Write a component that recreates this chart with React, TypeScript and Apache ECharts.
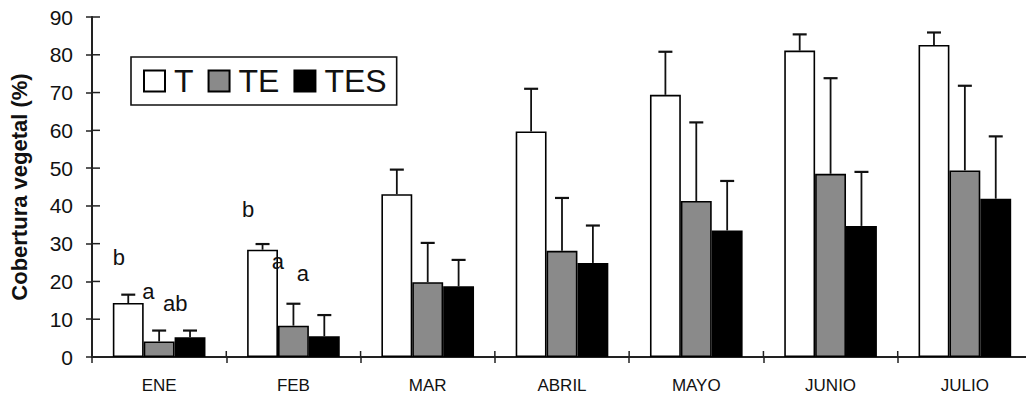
import React, { useEffect, useRef } from "react";
import * as echarts from "echarts";

const categories = ["ENE", "FEB", "MAR", "ABRIL", "MAYO", "JUNIO", "JULIO"];
const seriesNames = ["T", "TE", "TES"];
const valuesT = [14.3, 28.4, 43.1, 59.7, 69.4, 81.1, 82.6];
const errT = [2.2, 1.5, 6.5, 11.3, 11.4, 4.3, 3.3];
const valuesTE = [4.1, 8.3, 19.8, 28.1, 41.3, 48.5, 49.4];
const errTE = [2.9, 5.8, 10.4, 14.0, 20.8, 25.3, 22.4];
const valuesTES = [5.2, 5.5, 18.7, 24.9, 33.5, 34.7, 41.9];
const errTES = [1.8, 5.6, 7.0, 9.9, 13.1, 14.3, 16.5];
const yTicks = [0, 10, 20, 30, 40, 50, 60, 70, 80, 90];
// letter annotations: category index, position within category (0..1), y value, text
const letterCats = [0, 0, 0, 1, 1, 1];
const letterFrac = [0.2, 0.42, 0.62, 0.163, 0.385, 0.57];
const letterY = [26.3, 17.3, 14.1, 39.0, 25.2, 22.0];
const letterText = ["b", "a", "ab", "b", "a", "a"];

const FONT = "'Liberation Sans', Arial, sans-serif";
const BAR_FRAC = 0.23;
const colors = ["#ffffff", "#8a8a8a", "#000000"];

export default function App() {
  const ref = useRef<HTMLDivElement>(null);
  useEffect(() => {
    if (!ref.current) return;
    const chart = echarts.init(ref.current, undefined, { renderer: "svg" });
    const vals = [valuesT, valuesTE, valuesTES];
    const errs = [errT, errTE, errTES];

    const barSeries = seriesNames.map((name, s) => ({
      name,
      type: "bar",
      data: vals[s],
      barWidth: "23%",
      barGap: "0%",
      itemStyle: { color: colors[s], borderColor: "#000", borderWidth: 1.6 },
      z: 2,
    }));

    const errSeries = seriesNames.map((name, s) => ({
      name: name + "_err",
      type: "custom",
      data: vals[s].map((v, i) => [i, v, v + errs[s][i]]),
      encode: { x: 0, y: [1, 2] },
      z: 3,
      silent: true,
      renderItem: (params: any, api: any) => {
        const i = api.value(0);
        const base = api.coord([i, api.value(1)]);
        const top = api.coord([i, api.value(2)]);
        const bw = api.size([1, 0])[0];
        const x = base[0] + (s - 1) * bw * BAR_FRAC;
        return {
          type: "group",
          children: [
            { type: "line", shape: { x1: x, y1: base[1], x2: x, y2: top[1] }, style: { stroke: "#111", lineWidth: 1.8 } },
            { type: "line", shape: { x1: x - 7, y1: top[1], x2: x + 7, y2: top[1] }, style: { stroke: "#111", lineWidth: 2.2 } },
          ],
        };
      },
    }));

    const letterSeries = {
      name: "letters",
      type: "custom",
      data: letterCats.map((c, k) => [c, letterY[k], letterFrac[k], k]),
      encode: { x: 0, y: 1 },
      z: 4,
      silent: true,
      renderItem: (params: any, api: any) => {
        const c = api.value(0);
        const p = api.coord([c, api.value(1)]);
        const bw = api.size([1, 0])[0];
        const x = p[0] + (api.value(2) - 0.5) * bw;
        return {
          type: "text",
          x,
          y: p[1],
          style: {
            text: letterText[api.value(3)],
            fontSize: 22,
            fontFamily: FONT,
            fill: "#111",
            align: "center",
            verticalAlign: "middle",
          },
        };
      },
    };

    // inner halves of the axis ticks (ticks cross the axis lines)
    const innerYTicks = {
      name: "innerYTicks",
      type: "custom",
      data: yTicks.map((v) => [0, v]),
      encode: { x: 0, y: 1 },
      z: 5,
      silent: true,
      renderItem: (params: any, api: any) => {
        const p = api.coord([0, api.value(1)]);
        const bw = api.size([1, 0])[0];
        const x0 = p[0] - bw / 2;
        return { type: "line", shape: { x1: x0, y1: p[1], x2: x0 + 8, y2: p[1] }, style: { stroke: "#222", lineWidth: 1.5 } };
      },
    };
    const innerXTicks = {
      name: "innerXTicks",
      type: "custom",
      data: categories.map((c, i) => [i, 0]),
      encode: { x: 0, y: 1 },
      z: 5,
      silent: true,
      renderItem: (params: any, api: any) => {
        const i = api.value(0);
        if (i === 0) return null;
        const p = api.coord([i, 0]);
        const bw = api.size([1, 0])[0];
        const x0 = p[0] - bw / 2;
        return { type: "line", shape: { x1: x0, y1: p[1], x2: x0, y2: p[1] - 6 }, style: { stroke: "#222", lineWidth: 1.5 } };
      },
    };

    chart.setOption({
      animation: false,
      backgroundColor: "#ffffff",
      grid: { left: 86, right: 8, top: 17, bottom: 45 },
      legend: {
        data: seriesNames,
        left: 131,
        top: 57,
        orient: "horizontal",
        icon: "rect",
        itemWidth: 21,
        itemHeight: 21,
        itemGap: 14,
        padding: [8, 10, 8, 12],
        borderColor: "#111",
        borderWidth: 1.6,
        borderRadius: 0,
        textStyle: { fontSize: 32, fontFamily: FONT, color: "#111", padding: [0, 0, 0, 4] },
      },
      xAxis: {
        type: "category",
        data: categories,
        axisLine: { lineStyle: { color: "#222", width: 2 } },
        axisTick: { show: true, length: 6, lineStyle: { color: "#222", width: 1.5 } },
        axisLabel: { fontSize: 17, fontFamily: FONT, color: "#111", margin: 20 },
      },
      yAxis: {
        type: "value",
        min: 0,
        max: 90,
        interval: 10,
        name: "Cobertura vegetal (%)",
        nameLocation: "middle",
        nameRotate: 90,
        nameGap: 62,
        nameTextStyle: { fontSize: 22, fontWeight: "bold", fontFamily: FONT, color: "#111" },
        axisLine: { show: true, lineStyle: { color: "#222", width: 2 } },
        axisTick: { show: true, length: 6, lineStyle: { color: "#222", width: 1.5 } },
        axisLabel: {
          fontSize: 21,
          fontFamily: FONT,
          color: "#111",
          margin: 19,
          formatter: (v: number) => (yTicks.includes(v) ? String(v) : ""),
        },
        splitLine: { show: false },
      },
      series: [...barSeries, ...errSeries, letterSeries, innerYTicks, innerXTicks],
    });
    return () => chart.dispose();
  }, []);

  return (
    <div style={{ position: "fixed", left: 0, top: 0, width: 1026, height: 402, overflow: "hidden", background: "#fff" }}>
      <div ref={ref} style={{ width: 1040, height: 402 }} />
    </div>
  );
}
